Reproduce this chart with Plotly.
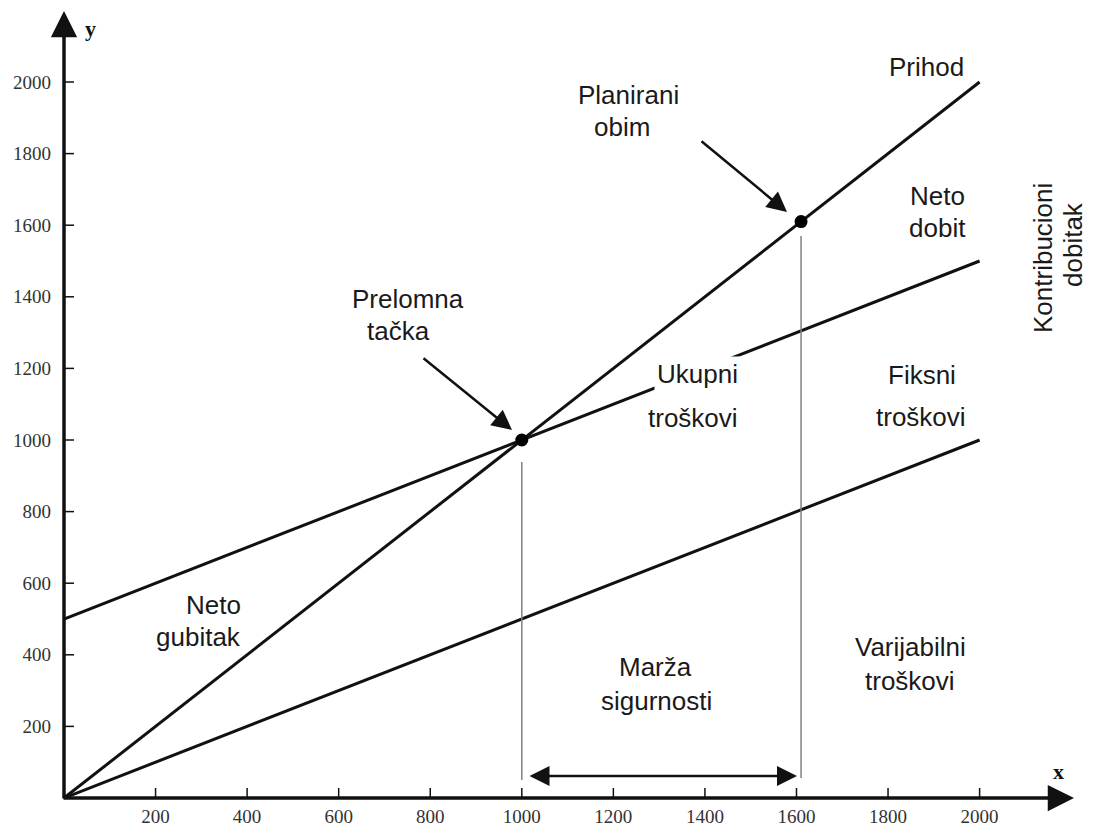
import plotly.graph_objects as go

# ---- data ----
x_ends = [0, 2000]
prihod = [0, 2000]
ukupni_troskovi = [500, 1500]
varijabilni_troskovi = [0, 1000]
prelomna_x, prelomna_y = 1000, 1000
planirani_x, planirani_y = 1610, 1610
x_ticks = [200, 400, 600, 800, 1000, 1200, 1400, 1600, 1800, 2000]
y_ticks = [200, 400, 600, 800, 1000, 1200, 1400, 1600, 1800, 2000]

# page offset (body margin) = 8px
W, H = 1087, 819
ML, MR, MT, MB = 56, 5, 0, 29
OX, OY = 64.0, 798.0          # screen position of the origin
sx = 0.4578                   # px per unit (x)
sy = 0.358                    # px per unit (y)
xmax = (W - ML - MR) / sx
ymax = (H - MT - MB) / sy

def dx(px):
    return (px - OX) / sx

def dy(py):
    return (OY - py) / sy

fig = go.Figure()
line_style = dict(color="#111111", width=3)
for ys in (prihod, ukupni_troskovi, varijabilni_troskovi):
    fig.add_trace(go.Scatter(x=x_ends, y=ys, mode="lines", line=line_style,
                             hoverinfo="skip", showlegend=False))

# vertical gray lines
fig.add_trace(go.Scatter(x=[prelomna_x, prelomna_x], y=[dy(780), dy(462)], mode="lines",
                         line=dict(color="#808080", width=1.5), showlegend=False, hoverinfo="skip"))
fig.add_trace(go.Scatter(x=[planirani_x, planirani_x], y=[dy(778), dy(236)], mode="lines",
                         line=dict(color="#808080", width=1.5), showlegend=False, hoverinfo="skip"))

fig.add_trace(go.Scatter(x=[prelomna_x, planirani_x], y=[prelomna_y, planirani_y], mode="markers",
                         marker=dict(color="black", size=13), showlegend=False, hoverinfo="skip"))

shapes = []
for t in x_ticks:
    shapes.append(dict(type="line", xref="x", yref="y", x0=t, x1=t, y0=-10, y1=10,
                       ysizemode="pixel", yanchor=0, line=dict(color="#111111", width=1.5)))
for t in y_ticks:
    shapes.append(dict(type="line", xref="x", yref="y", y0=t, y1=t, x0=-10, x1=10,
                       xsizemode="pixel", xanchor=0, line=dict(color="#111111", width=1.5)))

ann = []
# axes arrows
ann.append(dict(x=dx(1074), y=0, ax=dx(62), ay=0, xref="x", yref="y", axref="x", ayref="y",
                showarrow=True, arrowhead=2, arrowsize=1.5, arrowwidth=3.5, arrowcolor="#111111", text=""))
ann.append(dict(x=0, y=dy(11), ax=0, ay=dy(800), xref="x", yref="y", axref="x", ayref="y",
                showarrow=True, arrowhead=2, arrowsize=1.5, arrowwidth=3.5, arrowcolor="#111111", text=""))
# pointer arrows
ann.append(dict(x=dx(512), y=dy(430), ax=dx(422), ay=dy(357), xref="x", yref="y", axref="x", ayref="y",
                showarrow=True, arrowhead=2, arrowsize=1.6, arrowwidth=2.5, arrowcolor="#111111", text=""))
ann.append(dict(x=dx(787), y=dy(212), ax=dx(700), ay=dy(140), xref="x", yref="y", axref="x", ayref="y",
                showarrow=True, arrowhead=2, arrowsize=1.6, arrowwidth=2.5, arrowcolor="#111111", text=""))
# double arrow (Marža sigurnosti)
ann.append(dict(x=dx(797), y=dy(776), ax=dx(528), ay=dy(776), xref="x", yref="y", axref="x", ayref="y",
                showarrow=True, arrowhead=2, startarrowhead=2, arrowside="end+start",
                arrowsize=1.6, startarrowsize=1.6, arrowwidth=2.5, arrowcolor="#111111", text=""))

font = dict(family="Liberation Sans, Arial", size=26, color="#1a1a1a")
# (text, screen x center, screen y of cap middle)
lines = [
    ("Planirani", 628, 92), ("obim", 622, 124),
    ("Prihod", 926, 64),
    ("Neto", 213, 602), ("gubitak", 198, 634),
    ("Neto", 937, 193), ("dobit", 937, 225),
    ("Prelomna", 408, 296), ("tačka", 398, 328),
    ("Fiksni", 922, 372), ("troškovi", 921, 414),
    ("Marža", 655, 664), ("sigurnosti", 656, 698),
    ("Varijabilni", 910, 644), ("troškovi", 910, 678),
]
for text, px, py in lines:
    ann.append(dict(x=dx(px), y=dy(py + 3), xref="x", yref="y", text=text, showarrow=False,
                    font=font, align="center"))
# labels with white background covering the line
for text, px, py in [("Ukupni", 697, 371), ("troškovi", 693, 415)]:
    ann.append(dict(x=dx(px), y=dy(py + 3), xref="x", yref="y", text=text, showarrow=False,
                    font=font, align="center", bgcolor="white", borderpad=2))
# rotated label
ann.append(dict(x=dx(1043), y=dy(258), xref="x", yref="y", text="Kontribucioni", showarrow=False,
                font=font, textangle=-90))
ann.append(dict(x=dx(1073), y=dy(245), xref="x", yref="y", text="dobitak", showarrow=False,
                font=font, textangle=-90))

ann.append(dict(x=dx(90), y=dy(28), xref="x", yref="y", text="<b>y</b>", showarrow=False,
                font=dict(family="Liberation Serif", size=22, color="#111111")))
ann.append(dict(x=dx(1058), y=dy(771), xref="x", yref="y", text="<b>x</b>", showarrow=False,
                font=dict(family="Liberation Serif", size=22, color="#111111")))

tickfont = dict(family="Liberation Serif", size=19, color="#333333")
fig.update_layout(
    width=W, height=H,
    margin=dict(l=ML, r=MR, t=MT, b=MB, autoexpand=False),
    paper_bgcolor="white", plot_bgcolor="white",
    shapes=shapes, annotations=ann,
    xaxis=dict(range=[0, xmax], showgrid=False, zeroline=False, showline=False,
               tickvals=x_ticks, ticktext=[str(t) for t in x_ticks], ticks="",
               tickfont=tickfont, ticklabelstandoff=5, fixedrange=True, automargin=False),
    yaxis=dict(range=[0, ymax], showgrid=False, zeroline=False, showline=False,
               tickvals=y_ticks, ticktext=[str(t) for t in y_ticks], ticks="",
               tickfont=tickfont, ticklabelstandoff=12, fixedrange=True, automargin=False),
)
fig.write_html("out.html")
